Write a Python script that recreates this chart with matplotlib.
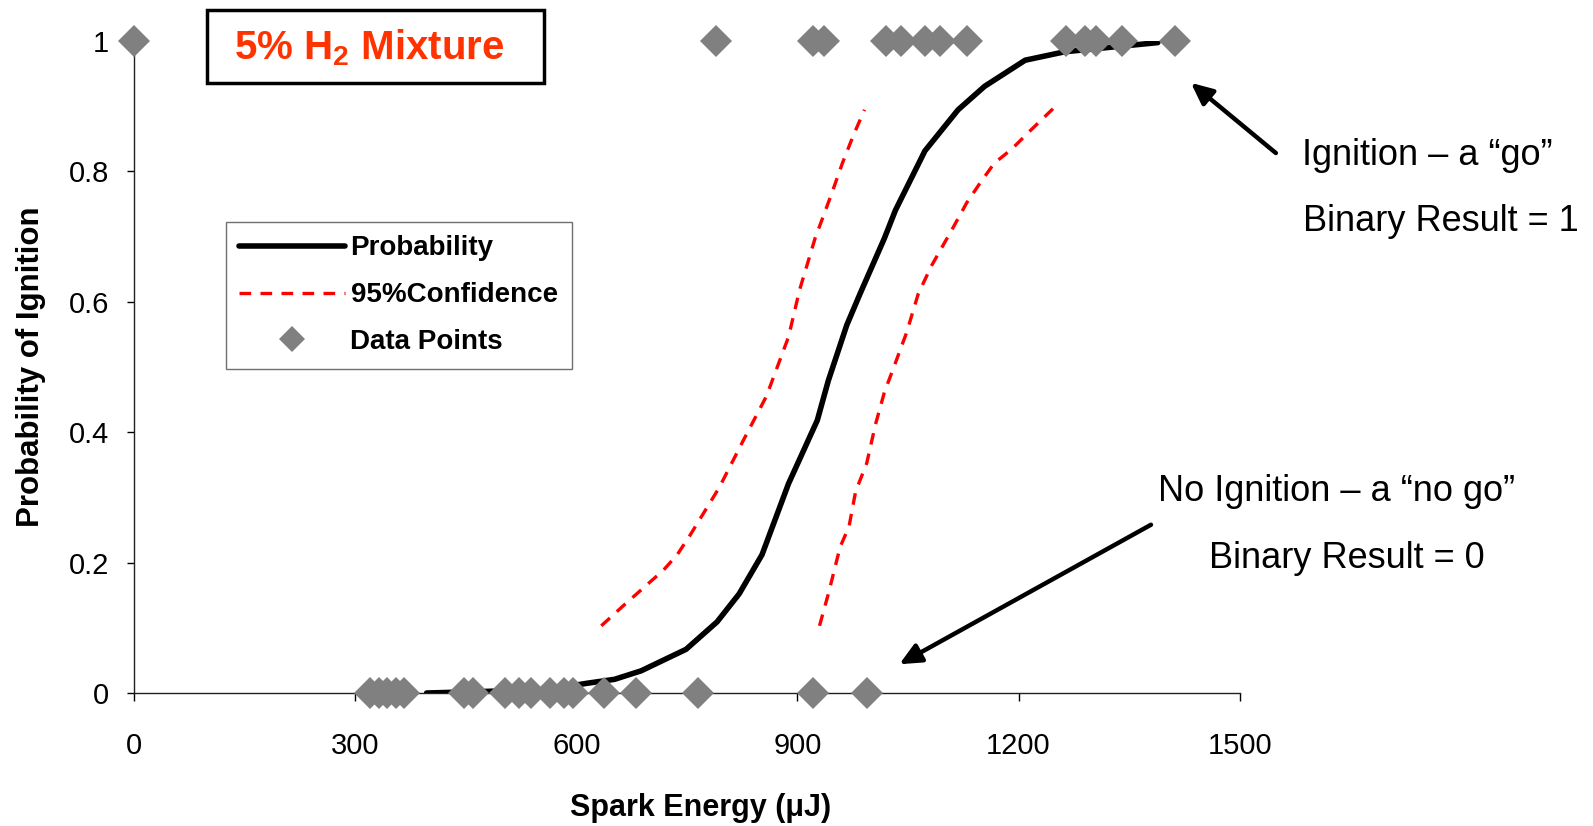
import matplotlib
matplotlib.use("Agg")
import matplotlib.pyplot as plt
from matplotlib.patches import Rectangle

plt.rcParams['font.family'] = ['Liberation Sans', 'DejaVu Sans']
plt.rcParams['mathtext.default'] = 'regular'

# fitted probability curve
prob_x = [397, 560, 615, 652, 688, 749, 791, 821, 852, 888, 927, 942, 967, 985,
          1018, 1033, 1073, 1118, 1154, 1209, 1263, 1326, 1389]
prob_y = [0.0, 0.005, 0.015, 0.021, 0.034, 0.067, 0.109, 0.152, 0.212, 0.321, 0.418,
          0.479, 0.564, 0.612, 0.697, 0.740, 0.831, 0.894, 0.930, 0.970, 0.983,
          0.990, 0.997]

# 95% confidence bounds
lo_x = [634, 664, 718, 737, 755, 794, 827, 858, 888, 903, 924, 946, 961, 976, 991]
lo_y = [0.103, 0.134, 0.188, 0.212, 0.243, 0.315, 0.388, 0.455, 0.546, 0.618,
        0.697, 0.764, 0.812, 0.855, 0.894]
hi_x = [930, 942, 958, 970, 979, 994, 1006, 1018, 1030, 1048, 1064, 1082, 1100,
        1112, 1130, 1148, 1167, 1191, 1215, 1248]
hi_y = [0.103, 0.152, 0.224, 0.255, 0.309, 0.352, 0.412, 0.461, 0.497, 0.552,
        0.612, 0.655, 0.691, 0.715, 0.752, 0.782, 0.812, 0.834, 0.861, 0.897]

# binary test results
go_x = [0, 790, 921, 936, 1020, 1040, 1073, 1093, 1130, 1265, 1290, 1305, 1340, 1412]
nogo_x = [320, 332, 343, 355, 366, 448, 460, 504, 523, 538, 564, 583, 596, 638,
          681, 765, 921, 995]

fig = plt.figure(figsize=(15.93, 8.26), dpi=100)
ax = fig.add_axes([0.0841, 0.161, 0.6941, 0.7898])

ax.plot(prob_x, prob_y, color='black', lw=4, solid_capstyle='round',
        label='Probability', zorder=3)
ax.plot(lo_x, lo_y, color='red', lw=2.4, dashes=(3.5, 2.8), label='95%Confidence', zorder=2)
ax.plot(hi_x, hi_y, color='red', lw=2.4, dashes=(3.5, 2.8), zorder=2)
ax.plot(go_x, [1] * len(go_x), 'D', color='#808080', ms=16, mew=0,
        clip_on=False, label='Data Points', zorder=4)
ax.plot(nogo_x, [0] * len(nogo_x), 'D', color='#808080', ms=16, mew=0,
        clip_on=False, zorder=4)

ax.set_xlim(0, 1500)
ax.set_ylim(0, 1)
ax.set_xticks([0, 300, 600, 900, 1200, 1500])
ax.set_yticks([0, 0.2, 0.4, 0.6, 0.8, 1])
ax.set_yticklabels(['0', '0.2', '0.4', '0.6', '0.8', '1'])
ax.tick_params(axis='x', direction='out', length=6, width=1, labelsize=21, pad=22)
ax.tick_params(axis='y', direction='out', length=5, width=1, labelsize=21, pad=13)
for s in ['top', 'right']:
    ax.spines[s].set_visible(False)
for s in ['left', 'bottom']:
    ax.spines[s].set_linewidth(1)
    ax.spines[s].set_color('#202020')

ax.set_xlabel('Spark Energy (\u03bcJ)', fontsize=22, fontweight='bold', labelpad=24)
ax.xaxis.label.set_x(0.512)
ax.set_ylabel('Probability of Ignition', fontsize=22.5, fontweight='bold', labelpad=16)

leg = ax.legend(loc='upper left', bbox_to_anchor=(225.5 / 1593, 1 - 221.5 / 826),
                bbox_transform=fig.transFigure, handlelength=3.8,
                prop={'weight': 'bold', 'size': 20}, fancybox=False, framealpha=1,
                edgecolor='#707070', borderpad=0.5, labelspacing=0.75,
                handletextpad=0.2, borderaxespad=0, markerscale=0.85)
leg.get_frame().set_linewidth(1)

# title box
fig.add_artist(Rectangle((207 / 1593, 1 - 83 / 826), 336.5 / 1593, 73 / 826,
                         transform=fig.transFigure, fill=False, lw=2.5,
                         edgecolor='black'))
fig.text(369 / 1593, 1 - 48 / 826, '5% H$_2$ Mixture', color='#FF3300',
         fontsize=29, fontweight='bold', ha='center', va='center')

# annotations
arrow = dict(arrowstyle='-|>,head_length=1.3,head_width=0.6', lw=3.2, color='black')
ax.annotate('', xy=(1431, 0.938), xytext=(1552, 0.825),
            arrowprops=arrow, annotation_clip=False)
ax.annotate('', xy=(1035, 0.042), xytext=(1383, 0.26),
            arrowprops=arrow, annotation_clip=False)
ax.text(1755, 0.824, 'Ignition \u2013 a \u201cgo\u201d', fontsize=26,
        ha='center', va='center', clip_on=False)
ax.text(1773, 0.723, 'Binary Result = 1', fontsize=26,
        ha='center', va='center', clip_on=False)
ax.text(1631, 0.309, 'No Ignition \u2013 a \u201cno go\u201d', fontsize=26,
        ha='center', va='center', clip_on=False)
ax.text(1645, 0.206, 'Binary Result = 0', fontsize=26,
        ha='center', va='center', clip_on=False)

fig.savefig('out.png', dpi=100)
